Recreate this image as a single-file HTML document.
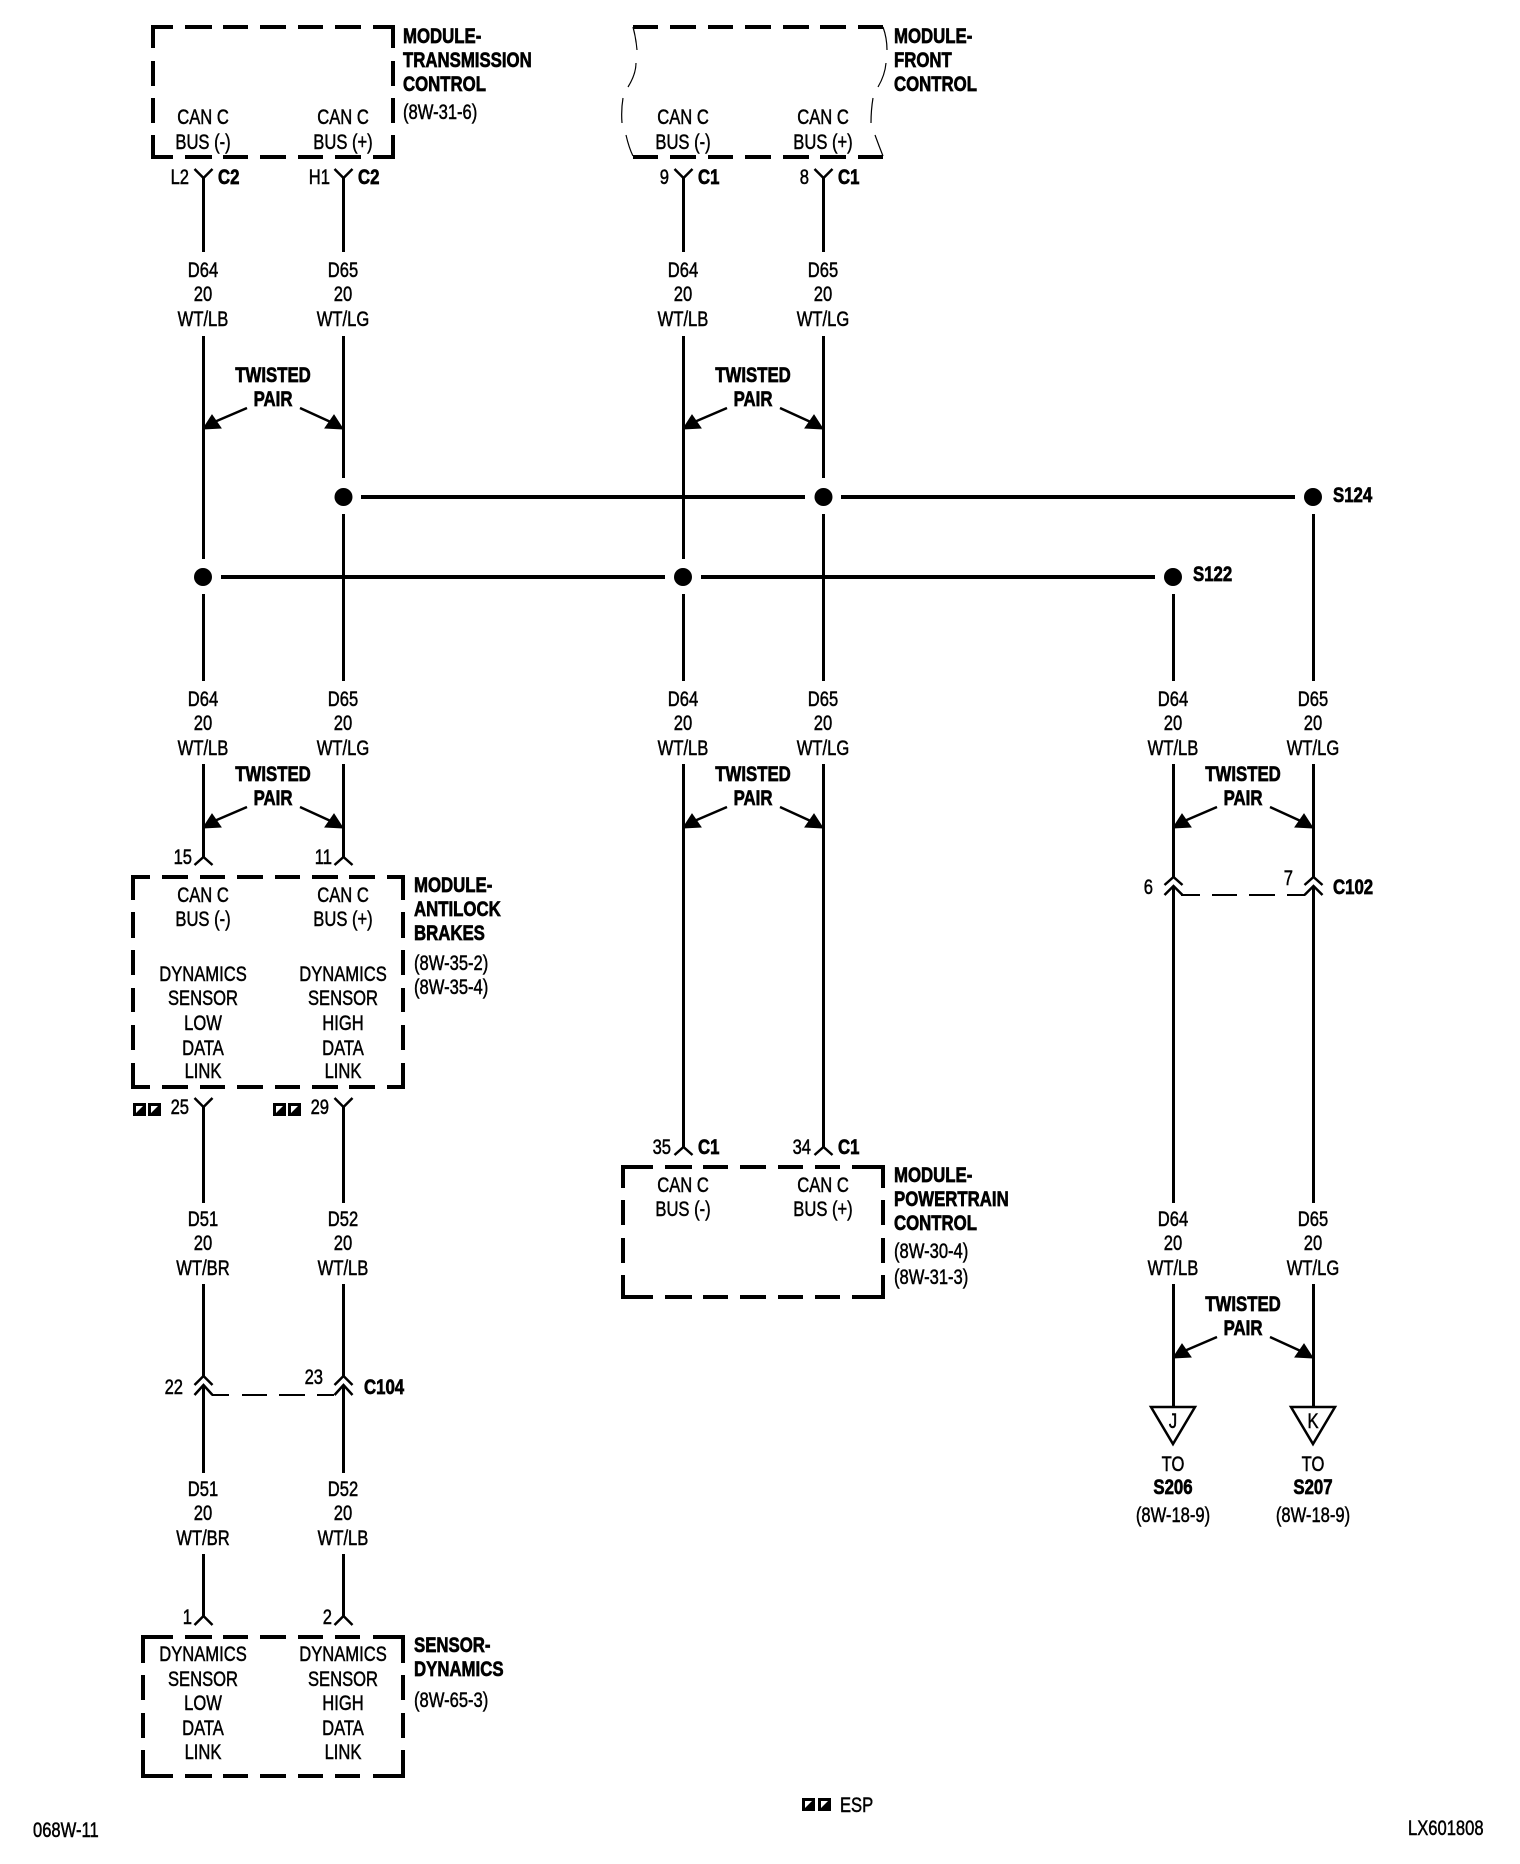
<!DOCTYPE html>
<html><head><meta charset="utf-8"><title>068W-11</title>
<style>
html,body{margin:0;padding:0;background:#fff}
svg{display:block}
text{font-family:"Liberation Sans",sans-serif;font-size:21px;fill:#000;stroke:#000;stroke-width:.5;transform:scale(.79,1)}
.m text{text-anchor:middle}
.e text{text-anchor:end}
.b text{font-weight:bold;stroke-width:.7;transform:scale(.8,1)}
.w{fill:none;stroke:#000;stroke-width:3}
.h{fill:none;stroke:#000;stroke-width:4}
.c{fill:none;stroke:#000;stroke-width:2.5}
.d{fill:none;stroke:#000;stroke-width:2}
.t{fill:none;stroke:#000;stroke-width:1.2}
.r{fill:none;stroke:#000;stroke-width:2.5;stroke-linejoin:miter}
</style></head><body>
<svg width="1520" height="1864" viewBox="0 0 1520 1864" xmlns="http://www.w3.org/2000/svg">
<rect width="1520" height="1864" fill="#fff"/>

<!-- boxes -->
<path class="h" d="M152 27H173M185 27H212M223 27H248M260 27H286M298 27H323M335 27H361M373 27H393
M152 157H173M185 157H212M223 157H248M260 157H286M298 157H323M335 157H361M373 157H393
M153 25V48M153 61V86M153 98V123M153 135V159M393 25V48M393 61V86M393 98V123M393 135V159"/>
<path class="h" d="M633 27H658M670 27H696M708 27H733M745 27H771M783 27H809M820 27H846M858 27H883
M633 157H658M670 157H696M708 157H733M745 157H771M783 157H809M820 157H846M858 157H883"/>
<path class="t" d="M633 27Q636 38 637 50M636 63Q636 74 628 87M623 98Q621 110 622 123M626 135Q629 148 633 156M883 27Q887 38 887 50M886 63Q885 75 878 87M873 98Q871 110 871 123M875 135Q879 146 883 156"/>
<path class="h" d="M132 877H150M162 877H188M200 877H225M237 877H263M275 877H300M312 877H338M349 877H375M387 877H403
M132 1087H150M162 1087H188M200 1087H225M237 1087H263M275 1087H300M312 1087H338M349 1087H375M387 1087H403
M133 875V900M133 912V938M133 950V975M133 988V1012M133 1025V1050M133 1063V1089
M403 875V900M403 912V938M403 950V975M403 988V1012M403 1025V1050M403 1063V1089"/>
<path class="h" d="M622 1167H653M665 1167H692M703 1167H728M740 1167H766M778 1167H803M815 1167H840M852 1167H883
M622 1297H653M665 1297H692M703 1297H728M740 1297H766M778 1297H803M815 1297H840M852 1297H883
M623 1165V1188M623 1200V1225M623 1238V1263M623 1275V1299M883 1165V1188M883 1200V1225M883 1238V1263M883 1275V1299"/>
<path class="h" d="M142 1637H173M185 1637H212M223 1637H248M260 1637H286M298 1637H323M335 1637H360M373 1637H403
M142 1776H173M185 1776H212M223 1776H248M260 1776H286M298 1776H323M335 1776H360M373 1776H403
M143 1635V1663M143 1675V1700M143 1713V1738M143 1750V1778M403 1635V1663M403 1675V1700M403 1713V1738M403 1750V1778"/>

<!-- horizontal bus lines and splices -->
<path class="h" d="M361 497H805M841 497H1295M221 577H665M701 577H1155"/>
<g fill="#000"><circle cx="343.5" cy="497" r="9"/><circle cx="823.5" cy="497" r="9"/><circle cx="1313" cy="497" r="9"/><circle cx="203" cy="577" r="9"/><circle cx="683" cy="577" r="9"/><circle cx="1173" cy="577" r="9"/></g>

<!-- wires -->
<path class="w" d="M203.5 177V252M203.5 336V559M203.5 594V681M203.5 764V857M203.5 1107V1203M203.5 1284V1376M203.5 1385V1473M203.5 1554V1616
M343.5 177V252M343.5 336V478M343.5 514V681M343.5 764V857M343.5 1107V1203M343.5 1284V1376M343.5 1385V1473M343.5 1554V1616
M683.5 177V252M683.5 336V559M683.5 594V681M683.5 764V1147
M823.5 177V252M823.5 336V478M823.5 514V681M823.5 764V1147
M1173.5 594V681M1173.5 764V877M1173.5 886V1203M1173.5 1284V1407
M1313.5 514V681M1313.5 764V877M1313.5 886V1203M1313.5 1284V1407"/>

<!-- connectors -->
<path class="c" d="M194.5 169L203.5 178L212.5 169M334.5 169L343.5 178L352.5 169M674.5 169L683.5 178L692.5 169M814.5 169L823.5 178L832.5 169
M194.5 1098L203.5 1107L212.5 1098M334.5 1098L343.5 1107L352.5 1098
M194.5 865L203.5 857L212.5 865M334.5 865L343.5 857L352.5 865
M674.5 1155L683.5 1147L692.5 1155M814.5 1155L823.5 1147L832.5 1155
M194.5 1625L203.5 1616L212.5 1625M334.5 1625L343.5 1616L352.5 1625
M194.5 1385L203.5 1376L212.5 1385M194.5 1395L203.5 1385L212.5 1395M334.5 1385L343.5 1376L352.5 1385M334.5 1395L343.5 1385L352.5 1395
M1164.5 885L1173.5 877L1182.5 885M1164.5 895L1173.5 886L1182.5 895M1304.5 885L1313.5 877L1322.5 885M1304.5 895L1313.5 886L1322.5 895"/>
<path class="d" d="M212 1395H229M242 1395H267M279 1395H305M317 1395H334M1181 895H1200M1212 895H1237M1249 895H1275M1287 895H1305"/>

<!-- twisted pair arrows -->
<g fill="#000" stroke="#000" stroke-width="1">
<path d="M203 429L221 428L212 415Z M343 429L325 428L334 415Z M683 429L701 428L692 415Z M823 429L805 428L814 415Z"/>
<path d="M203 828L221 827L212 814Z M343 828L325 827L334 814Z M683 828L701 827L692 814Z M823 828L805 827L814 814Z M1173 828L1191 827L1182 814Z M1313 828L1295 827L1304 814Z"/>
<path d="M1173 1358L1191 1357L1182 1344Z M1313 1358L1295 1357L1304 1344Z"/>
</g>
<path class="c" d="M247 408L212 423M300 408L335 424M727 408L692 423M780 408L815 424M247 807L212 822M300 807L335 823M727 807L692 822M780 807L815 823M1217 807L1182 822M1270 807L1305 823M1217 1337L1182 1352M1270 1337L1305 1353"/>

<!-- triangles -->
<path class="r" d="M1151 1407H1195L1173 1444ZM1291 1407H1335L1313 1444Z"/>

<!-- ESP icons -->
<g fill="#000">
<path d="M133 1103h13v13h-13ZM148 1103h13v13h-13ZM273 1103h13v13h-13ZM288 1103h13v13h-13ZM802 1798h13v13h-13ZM818 1798h13v13h-13Z"/>
</g>
<g fill="#fff">
<path d="M136 1113l7-7h-7ZM151 1113l7-7h-7ZM276 1113l7-7h-7ZM291 1113l7-7h-7ZM805 1808l7-7h-7ZM821 1808l7-7h-7Z"/>
</g>

<!-- centred text blocks -->
<g class="m">
<g transform="translate(203,124)"><text>CAN C</text><text y="25">BUS (-)</text></g>
<g transform="translate(343,124)"><text>CAN C</text><text y="25">BUS (+)</text></g>
<g transform="translate(683,124)"><text>CAN C</text><text y="25">BUS (-)</text></g>
<g transform="translate(823,124)"><text>CAN C</text><text y="25">BUS (+)</text></g>

<g transform="translate(203,277)"><text>D64</text><text y="24">20</text><text y="49">WT/LB</text></g>
<g transform="translate(343,277)"><text>D65</text><text y="24">20</text><text y="49">WT/LG</text></g>
<g transform="translate(683,277)"><text>D64</text><text y="24">20</text><text y="49">WT/LB</text></g>
<g transform="translate(823,277)"><text>D65</text><text y="24">20</text><text y="49">WT/LG</text></g>

<g transform="translate(203,706)"><text>D64</text><text y="24">20</text><text y="49">WT/LB</text></g>
<g transform="translate(343,706)"><text>D65</text><text y="24">20</text><text y="49">WT/LG</text></g>
<g transform="translate(683,706)"><text>D64</text><text y="24">20</text><text y="49">WT/LB</text></g>
<g transform="translate(823,706)"><text>D65</text><text y="24">20</text><text y="49">WT/LG</text></g>
<g transform="translate(1173,706)"><text>D64</text><text y="24">20</text><text y="49">WT/LB</text></g>
<g transform="translate(1313,706)"><text>D65</text><text y="24">20</text><text y="49">WT/LG</text></g>

<g transform="translate(203,902)"><text>CAN C</text><text y="24">BUS (-)</text><text y="79">DYNAMICS</text><text y="103">SENSOR</text><text y="128">LOW</text><text y="153">DATA</text><text y="176">LINK</text></g>
<g transform="translate(343,902)"><text>CAN C</text><text y="24">BUS (+)</text><text y="79">DYNAMICS</text><text y="103">SENSOR</text><text y="128">HIGH</text><text y="153">DATA</text><text y="176">LINK</text></g>

<g transform="translate(203,1226)"><text>D51</text><text y="24">20</text><text y="49">WT/BR</text></g>
<g transform="translate(343,1226)"><text>D52</text><text y="24">20</text><text y="49">WT/LB</text></g>
<g transform="translate(1173,1226)"><text>D64</text><text y="24">20</text><text y="49">WT/LB</text></g>
<g transform="translate(1313,1226)"><text>D65</text><text y="24">20</text><text y="49">WT/LG</text></g>

<g transform="translate(203,1496)"><text>D51</text><text y="24">20</text><text y="49">WT/BR</text></g>
<g transform="translate(343,1496)"><text>D52</text><text y="24">20</text><text y="49">WT/LB</text></g>

<g transform="translate(683,1192)"><text>CAN C</text><text y="24">BUS (-)</text></g>
<g transform="translate(823,1192)"><text>CAN C</text><text y="24">BUS (+)</text></g>

<g transform="translate(203,1661)"><text>DYNAMICS</text><text y="25">SENSOR</text><text y="49">LOW</text><text y="74">DATA</text><text y="98">LINK</text></g>
<g transform="translate(343,1661)"><text>DYNAMICS</text><text y="25">SENSOR</text><text y="49">HIGH</text><text y="74">DATA</text><text y="98">LINK</text></g>

<g transform="translate(1173,1428)"><text>J</text></g>
<g transform="translate(1313,1428)"><text>K</text></g>
<g transform="translate(1173,1471)"><text>TO</text><text y="51">(8W-18-9)</text></g>
<g transform="translate(1313,1471)"><text>TO</text><text y="51">(8W-18-9)</text></g>
</g>

<g class="m b">
<g transform="translate(1173,1494)"><text>S206</text></g>
<g transform="translate(1313,1494)"><text>S207</text></g>
<g transform="translate(273,382)"><text>TWISTED</text><text y="24">PAIR</text></g>
<g transform="translate(753,382)"><text>TWISTED</text><text y="24">PAIR</text></g>
<g transform="translate(273,781)"><text>TWISTED</text><text y="24">PAIR</text></g>
<g transform="translate(753,781)"><text>TWISTED</text><text y="24">PAIR</text></g>
<g transform="translate(1243,781)"><text>TWISTED</text><text y="24">PAIR</text></g>
<g transform="translate(1243,1311)"><text>TWISTED</text><text y="24">PAIR</text></g>
</g>

<!-- titles -->
<g class="b">
<g transform="translate(403,43)"><text>MODULE-</text><text y="24">TRANSMISSION</text><text y="48">CONTROL</text></g>
<g transform="translate(894,43)"><text>MODULE-</text><text y="24">FRONT</text><text y="48">CONTROL</text></g>
<g transform="translate(414,892)"><text>MODULE-</text><text y="24">ANTILOCK</text><text y="48">BRAKES</text></g>
<g transform="translate(894,1182)"><text>MODULE-</text><text y="24">POWERTRAIN</text><text y="48">CONTROL</text></g>
<g transform="translate(414,1652)"><text>SENSOR-</text><text y="24">DYNAMICS</text></g>
<g transform="translate(218,184)"><text>C2</text></g>
<g transform="translate(358,184)"><text>C2</text></g>
<g transform="translate(698,184)"><text>C1</text></g>
<g transform="translate(838,184)"><text>C1</text></g>
<g transform="translate(698,1154)"><text>C1</text></g>
<g transform="translate(838,1154)"><text>C1</text></g>
<g transform="translate(1333,502)"><text>S124</text></g>
<g transform="translate(1193,581)"><text>S122</text></g>
<g transform="translate(1333,894)"><text>C102</text></g>
<g transform="translate(364,1394)"><text>C104</text></g>
</g>

<!-- left aligned refs -->
<g>
<g transform="translate(403,119)"><text>(8W-31-6)</text></g>
<g transform="translate(414,970)"><text>(8W-35-2)</text><text y="24">(8W-35-4)</text></g>
<g transform="translate(894,1258)"><text>(8W-30-4)</text><text y="26">(8W-31-3)</text></g>
<g transform="translate(414,1707)"><text>(8W-65-3)</text></g>
<g transform="translate(840,1812)"><text>ESP</text></g>
<g transform="translate(33,1837)"><text>068W-11</text></g>
<g transform="translate(1408,1835)"><text>LX601808</text></g>
</g>

<!-- pin numbers -->
<g class="e">
<g transform="translate(189,184)"><text>L2</text></g>
<g transform="translate(330,184)"><text>H1</text></g>
<g transform="translate(669,184)"><text>9</text></g>
<g transform="translate(809,184)"><text>8</text></g>
<g transform="translate(192,864)"><text>15</text></g>
<g transform="translate(332,864)"><text>11</text></g>
<g transform="translate(189,1114)"><text>25</text></g>
<g transform="translate(329,1114)"><text>29</text></g>
<g transform="translate(671,1154)"><text>35</text></g>
<g transform="translate(811,1154)"><text>34</text></g>
<g transform="translate(183,1394)"><text>22</text></g>
<g transform="translate(323,1384)"><text>23</text></g>
<g transform="translate(192,1624)"><text>1</text></g>
<g transform="translate(332,1624)"><text>2</text></g>
<g transform="translate(1153,894)"><text>6</text></g>
<g transform="translate(1293,885)"><text>7</text></g>
</g>
</svg>
</body></html>
